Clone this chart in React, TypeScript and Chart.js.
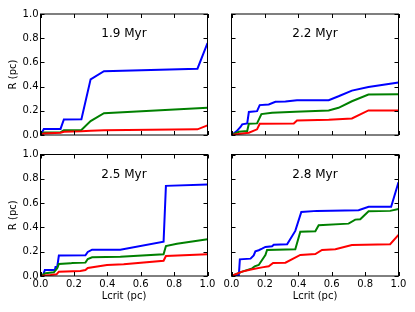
import React, { useEffect, useRef } from 'react';
import { Chart, registerables } from 'chart.js';

Chart.register(...registerables);

type Pt = [number, number];

// Tick values / labels
const tickValues = [0, 0.2, 0.4, 0.6, 0.8, 1.0];
const tickLabels = ['0.0', '0.2', '0.4', '0.6', '0.8', '1.0'];
const panelLabels = ['1.9 Myr', '2.2 Myr', '2.5 Myr', '2.8 Myr'];
const xTitle = 'Lcrit (pc)';
const yTitle = 'R (pc)';

// Panel 1: 1.9 Myr
const blue19: Pt[] = [[0, 0], [0.02, 0.05], [0.12, 0.05], [0.14, 0.128], [0.245, 0.13], [0.3, 0.46], [0.38, 0.527], [0.94, 0.548], [1.0, 0.76]];
const green19: Pt[] = [[0, 0], [0.02, 0.02], [0.12, 0.022], [0.14, 0.04], [0.245, 0.042], [0.3, 0.115], [0.38, 0.18], [1.0, 0.225]];
const red19: Pt[] = [[0, 0], [0.02, 0.012], [0.12, 0.018], [0.14, 0.027], [0.245, 0.03], [0.3, 0.036], [0.38, 0.04], [0.94, 0.047], [1.0, 0.08]];

// Panel 2: 2.2 Myr
const blue22: Pt[] = [[0, 0], [0.03, 0.03], [0.054, 0.066], [0.064, 0.088], [0.094, 0.096], [0.104, 0.19], [0.153, 0.197], [0.169, 0.247], [0.223, 0.252], [0.263, 0.274], [0.323, 0.277], [0.392, 0.288], [0.582, 0.288], [0.641, 0.32], [0.721, 0.367], [0.82, 0.397], [1.0, 0.433]];
const green22: Pt[] = [[0, 0], [0.044, 0.027], [0.094, 0.033], [0.104, 0.093], [0.153, 0.096], [0.179, 0.173], [0.243, 0.184], [0.382, 0.192], [0.582, 0.203], [0.641, 0.225], [0.721, 0.279], [0.82, 0.334], [1.0, 0.337]];
const red22: Pt[] = [[0, 0], [0.054, 0.011], [0.104, 0.019], [0.153, 0.047], [0.169, 0.093], [0.373, 0.096], [0.392, 0.12], [0.582, 0.126], [0.721, 0.137], [0.82, 0.203], [1.0, 0.203]];

// Panel 3: 2.5 Myr
const blue25: Pt[] = [[0, 0], [0.016, 0.008], [0.026, 0.049], [0.086, 0.049], [0.09, 0.074], [0.1, 0.074], [0.11, 0.168], [0.269, 0.17], [0.283, 0.198], [0.309, 0.217], [0.478, 0.217], [0.737, 0.283], [0.751, 0.742], [1.0, 0.753]];
const green25: Pt[] = [[0, 0], [0.03, 0.022], [0.08, 0.03], [0.1, 0.063], [0.11, 0.099], [0.18, 0.104], [0.19, 0.107], [0.269, 0.11], [0.283, 0.14], [0.309, 0.154], [0.478, 0.159], [0.737, 0.179], [0.751, 0.247], [0.817, 0.266], [1.0, 0.302]];
const red25: Pt[] = [[0, 0], [0.06, 0.008], [0.096, 0.014], [0.11, 0.036], [0.239, 0.041], [0.269, 0.049], [0.283, 0.066], [0.398, 0.091], [0.498, 0.096], [0.737, 0.126], [0.751, 0.165], [1.0, 0.179]];

// Panel 4: 2.8 Myr
const blue28: Pt[] = [[0, 0], [0.044, 0.008], [0.05, 0.137], [0.114, 0.143], [0.133, 0.17], [0.143, 0.203], [0.163, 0.212], [0.183, 0.225], [0.203, 0.239], [0.243, 0.245], [0.253, 0.258], [0.333, 0.261], [0.382, 0.371], [0.418, 0.527], [0.512, 0.536], [0.761, 0.541], [0.821, 0.569], [0.956, 0.569], [1.0, 0.772]];
const green28: Pt[] = [[0, 0], [0.064, 0.036], [0.124, 0.063], [0.139, 0.08], [0.163, 0.091], [0.183, 0.132], [0.203, 0.173], [0.213, 0.214], [0.382, 0.22], [0.412, 0.365], [0.502, 0.368], [0.522, 0.418], [0.701, 0.431], [0.741, 0.464], [0.771, 0.467], [0.821, 0.533], [0.95, 0.536], [1.0, 0.552]];
const red28: Pt[] = [[0, 0], [0.064, 0.036], [0.124, 0.055], [0.183, 0.071], [0.223, 0.08], [0.249, 0.107], [0.323, 0.11], [0.412, 0.173], [0.502, 0.181], [0.542, 0.214], [0.622, 0.22], [0.721, 0.255], [0.95, 0.261], [1.0, 0.338]];

const seriesByPanel: Pt[][][] = [
  [blue19, green19, red19],
  [blue22, green22, red22],
  [blue25, green25, red25],
  [blue28, green28, red28],
];
const seriesColors = ['#0000ff', '#008000', '#ff0000'];

const W = 415;
const H = 312;
const areas = [
  { l: 40.5, r: 207.5, t: 14, b: 135, showX: false, showY: true },
  { l: 231.5, r: 398.5, t: 14, b: 135, showX: false, showY: false },
  { l: 40.5, r: 207.5, t: 154.5, b: 276, showX: true, showY: true },
  { l: 231.5, r: 398.5, t: 154.5, b: 276, showX: true, showY: false },
];
const Y_AXIS_W = 40;
const X_AXIS_H = 36;

const framePlugin = {
  id: 'frame',
  afterDatasetsDraw(chart: any, _args: any, opts: any) {
    const { ctx, chartArea: a, scales } = chart;
    const xs = scales.x;
    const ys = scales.y;
    ctx.save();
    ctx.strokeStyle = '#000';
    ctx.lineWidth = 1;
    ctx.beginPath();
    for (const v of tickValues) {
      const px = Math.round(xs.getPixelForValue(v)) + 0.5;
      ctx.moveTo(px, a.bottom);
      ctx.lineTo(px, a.bottom - 4);
      ctx.moveTo(px, a.top);
      ctx.lineTo(px, a.top + 4);
      const py = Math.round(ys.getPixelForValue(v)) + 0.5;
      ctx.moveTo(a.left, py);
      ctx.lineTo(a.left + 4, py);
      ctx.moveTo(a.right, py);
      ctx.lineTo(a.right - 4, py);
    }
    ctx.stroke();
    ctx.strokeRect(a.left, a.top, a.right - a.left, a.bottom - a.top);
    ctx.fillStyle = '#000';
    ctx.font = '12px "DejaVu Sans"';
    ctx.textAlign = 'center';
    ctx.textBaseline = 'middle';
    ctx.fillText(opts.label, xs.getPixelForValue(0.5), ys.getPixelForValue(0.835));
    ctx.restore();
  },
};

function Panel({ index }: { index: number }) {
  const ref = useRef<HTMLCanvasElement | null>(null);
  useEffect(() => {
    if (!ref.current) return;
    const area = areas[index];
    const series = seriesByPanel[index];
    const zeroPad = (s: any) => {
      s.paddingLeft = 0;
      s.paddingRight = 0;
      s.paddingTop = 0;
      s.paddingBottom = 0;
    };
    const setTicks = (s: any) => {
      s.ticks = tickValues.map((v) => ({ value: v }));
    };
    const chart = new Chart(ref.current, {
      type: 'line',
      data: {
        datasets: series.map((pts, i) => ({
          data: pts.map(([x, y]) => ({ x, y })),
          borderColor: seriesColors[i],
          backgroundColor: seriesColors[i],
          borderWidth: 2,
          pointRadius: 0,
          tension: 0,
          fill: false,
          order: 3 - i,
        })),
      },
      options: {
        responsive: false,
        animation: false,
        devicePixelRatio: 1,
        layout: {
          padding: {
            left: area.l - Y_AXIS_W,
            right: W - area.r,
            top: area.t,
            bottom: H - area.b - X_AXIS_H,
          },
        },
        plugins: {
          legend: { display: false },
          tooltip: { enabled: false },
          title: { display: false },
          frame: { label: panelLabels[index] },
        } as any,
        scales: {
          x: {
            type: 'linear',
            position: 'bottom',
            min: 0,
            max: 1,
            afterBuildTicks: setTicks,
            afterFit: (s: any) => {
              s.height = X_AXIS_H;
              zeroPad(s);
            },
            grid: { display: false, drawTicks: false },
            border: { display: false },
            ticks: {
              display: area.showX,
              padding: 2,
              color: '#000',
              font: { family: 'DejaVu Sans', size: 10 },
              maxRotation: 0,
              autoSkip: false,
              callback: (_v: any, i: number) => tickLabels[i],
            },
            title: {
              display: area.showX,
              text: xTitle,
              color: '#000',
              font: { family: 'DejaVu Sans', size: 10 },
              padding: { top: 0, bottom: 10 },
            },
          },
          y: {
            type: 'linear',
            position: 'left',
            min: 0,
            max: 1,
            afterBuildTicks: setTicks,
            afterFit: (s: any) => {
              s.width = Y_AXIS_W;
              zeroPad(s);
            },
            grid: { display: false, drawTicks: false },
            border: { display: false },
            ticks: {
              display: area.showY,
              padding: 2,
              color: '#000',
              font: { family: 'DejaVu Sans', size: 10 },
              autoSkip: false,
              callback: (_v: any, i: number) => tickLabels[i],
            },
            title: {
              display: area.showY,
              text: yTitle,
              color: '#000',
              font: { family: 'DejaVu Sans', size: 10 },
              padding: { top: 6.5, bottom: 0 },
            },
          },
        },
      },
      plugins: [framePlugin as any],
    });
    return () => chart.destroy();
  }, [index]);
  return (
    <canvas
      ref={ref}
      width={W}
      height={H}
      style={{ position: 'absolute', left: 0, top: 0, width: W, height: H }}
    />
  );
}

export default function App() {
  return (
    <div style={{ position: 'absolute', left: 0, top: 0, width: W, height: H, background: '#fff' }}>
      {[0, 1, 2, 3].map((i) => (
        <Panel key={i} index={i} />
      ))}
    </div>
  );
}
